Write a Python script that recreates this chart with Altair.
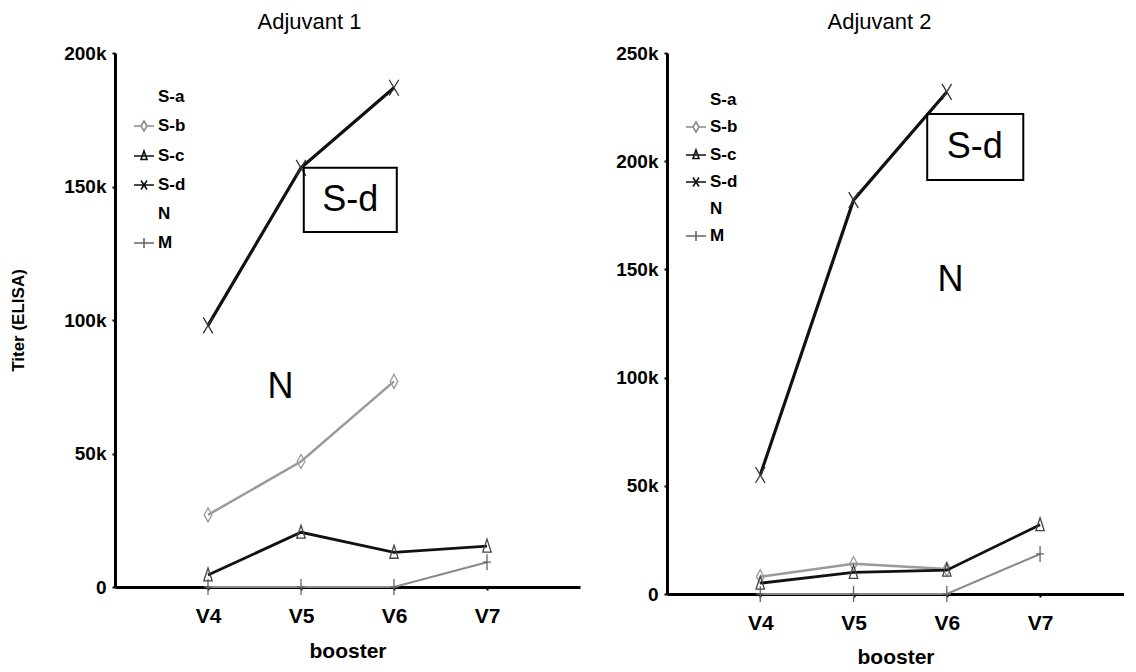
import altair as alt
import pandas as pd

FONT = "Liberation Sans"

boosters = ["V4", "V5", "V6", "V7"]
booster_pos = [1, 2, 3, 4]
series_names = ["S-a", "S-b", "S-c", "S-d", "N", "M"]

# Adjuvant 1 titers (None = not measured)
a1_sb = [27000, 47000, 77000, None]
a1_sc = [4500, 20500, 13000, 15300]
a1_sd = [98000, 157000, 187000, None]
a1_m = [0, 0, 0, 9300]

# Adjuvant 2 titers
a2_sb = [8000, 14000, 11500, None]
a2_sc = [5000, 10000, 11000, 32000]
a2_sd = [55000, 182000, 232000, None]
a2_m = [0, 0, 0, 18500]

a1_yticks = [0, 50000, 100000, 150000, 200000]
a2_yticks = [0, 50000, 100000, 150000, 200000, 250000]

# annotations (data coordinates)
a1_box = [2.03, 3.03, 157000, 133000]
a1_box_text = [2.53, 145000, "S-d"]
a1_n_text = [1.78, 75000, "N"]
a2_box = [2.79, 3.82, 221800, 191300]
a2_box_text = [3.30, 206600, "S-d"]
a2_n_text = [3.04, 145000, "N"]

styles = {
    "M": dict(color="#8a8a8a", width=2.0, path="M0,-1L0,1M-0.5,0L0.5,0", size=256, mcolor="#666"),
    "S-b": dict(color="#9a9a9a", width=2.5, path="M0,-1L0.55,0L0,1L-0.55,0Z", size=196, mcolor="#999"),
    "S-c": dict(color="#111111", width=2.8, path="M0,-1L0.6,0.85L-0.6,0.85Z", size=196, mcolor="#444"),
    "S-d": dict(color="#111111", width=3.2, path="M-0.6,-1L0.6,1M-0.6,1L0.6,-1", size=256, mcolor="#333"),
}

legend_paths = [
    "M0,0",
    "M-1,0L-0.3,0M0.3,0L1,0M0,-0.5L0.3,0L0,0.5L-0.3,0Z",
    "M-1,0L1,0M0,-0.5L0.3,0.35L-0.3,0.35Z",
    "M-1,0L1,0M-0.3,-0.45L0.3,0.45M-0.3,0.45L0.3,-0.45",
    "M0,0",
    "M-1,0L1,0M0,-0.5L0,0.5",
]
legend_colors = ["transparent", "#8a8a8a", "#111111", "#111111", "transparent", "#666666"]


def panel(title_text, title_dx, values, ymax, yticks, width, height, xmax,
          ytitle, legend_y, legend_rowpad, xtitle_y, box, box_text, n_text):
    def X(field):
        return alt.X(f"{field}:Q",
                     scale=alt.Scale(domain=[0, xmax], nice=False, zero=True),
                     axis=alt.Axis(values=booster_pos,
                                   labelExpr="'V' + (datum.value + 3)",
                                   labelFont=FONT, labelFontSize=21, labelFontWeight="bold",
                                   labelPadding=15, tickSize=3, tickWidth=2,
                                   domainWidth=3, grid=False,
                                   titleFont=FONT, titleFontSize=21, titleFontWeight="bold",
                                   titleY=xtitle_y, titleBaseline="top"),
                     title="booster")

    def Y(field):
        ax = dict(values=yticks,
                  labelExpr="datum.value == 0 ? '0' : (datum.value / 1000) + 'k'",
                  labelFont=FONT, labelFontSize=19, labelFontWeight="bold",
                  labelPadding=6, tickSize=3, tickWidth=2, domainWidth=3, grid=False,
                  titleFont=FONT, titleFontSize=17, titleFontWeight="bold",
                  titleX=-97, titleBaseline="middle")
        if ytitle:
            return alt.Y(f"{field}:Q", scale=alt.Scale(domain=[0, ymax], nice=False),
                         axis=alt.Axis(**ax), title=ytitle)
        return alt.Y(f"{field}:Q", scale=alt.Scale(domain=[0, ymax], nice=False),
                     axis=alt.Axis(**ax), title=None)

    layers = []
    for name in ["M", "S-b", "S-c", "S-d"]:
        st = styles[name]
        df = pd.DataFrame({"pos": booster_pos, "booster": boosters,
                           "titer": values[name]}).dropna()
        base = alt.Chart(df)
        layers.append(base.mark_line(color=st["color"], strokeWidth=st["width"]).encode(
            x=X("pos"), y=Y("titer")))
        layers.append(base.mark_point(shape=st["path"], size=st["size"], color=st["mcolor"],
                                      strokeWidth=1.3, filled=False, opacity=1).encode(
            x=X("pos"), y=Y("titer")))

    box_df = pd.DataFrame({"bx": [box[0]], "bx2": [box[1]], "by": [box[2]], "by2": [box[3]]})
    layers.append(alt.Chart(box_df).mark_rect(fillOpacity=0, stroke="black", strokeWidth=2).encode(
        x=X("bx"), x2="bx2", y=Y("by"), y2="by2"))

    txt_df = pd.DataFrame({"tx": [box_text[0], n_text[0]], "ty": [box_text[1], n_text[1]],
                           "label": [box_text[2], n_text[2]]})
    layers.append(alt.Chart(txt_df).mark_text(font=FONT, fontSize=36, color="black").encode(
        x=X("tx"), y=Y("ty"), text="label:N"))

    leg = alt.Legend(title=None, orient="none", legendX=18, legendY=legend_y,
                     labelFont=FONT, labelFontSize=17, labelFontWeight="bold", labelColor="black",
                     labelOffset=3, symbolSize=400, symbolStrokeWidth=1.6,
                     rowPadding=legend_rowpad)
    leg_df = pd.DataFrame({"series": series_names})
    layers.append(alt.Chart(leg_df).mark_point(filled=False, opacity=1).encode(
        shape=alt.Shape("series:N", scale=alt.Scale(domain=series_names, range=legend_paths), legend=leg),
        color=alt.Color("series:N", scale=alt.Scale(domain=series_names, range=legend_colors), legend=leg),
    ).transform_filter("datum.series == 'none-shown'"))

    return alt.layer(*layers).properties(
        width=width, height=height,
        title=alt.TitleParams(title_text, font=FONT, fontSize=22, fontWeight="normal",
                              anchor="middle", dx=title_dx, offset=10, color="black"))


left = panel("Adjuvant 1", -38, {"M": a1_m, "S-b": a1_sb, "S-c": a1_sc, "S-d": a1_sd},
             200000, a1_yticks, 465, 534, 5.0, "Titer (ELISA)", 33, 10, 53,
             a1_box, a1_box_text, a1_n_text)
right = panel("Adjuvant 2", -16, {"M": a2_m, "S-b": a2_sb, "S-c": a2_sc, "S-d": a2_sd},
              250000, a2_yticks, 457, 541, 4.9, None, 36, 8, 52,
              a2_box, a2_box_text, a2_n_text)

chart = alt.hconcat(left, right, spacing=35).resolve_scale(
    shape="independent", color="independent"
).properties(
    padding={"left": 1, "top": 3, "right": 0, "bottom": 0},
    background="white"
).configure_view(strokeWidth=0, stroke="transparent").configure_axis(
    domainColor="black", tickColor="black", labelColor="black", titleColor="black"
)

chart.save("out.html", embed_options={"renderer": "svg", "actions": False})
